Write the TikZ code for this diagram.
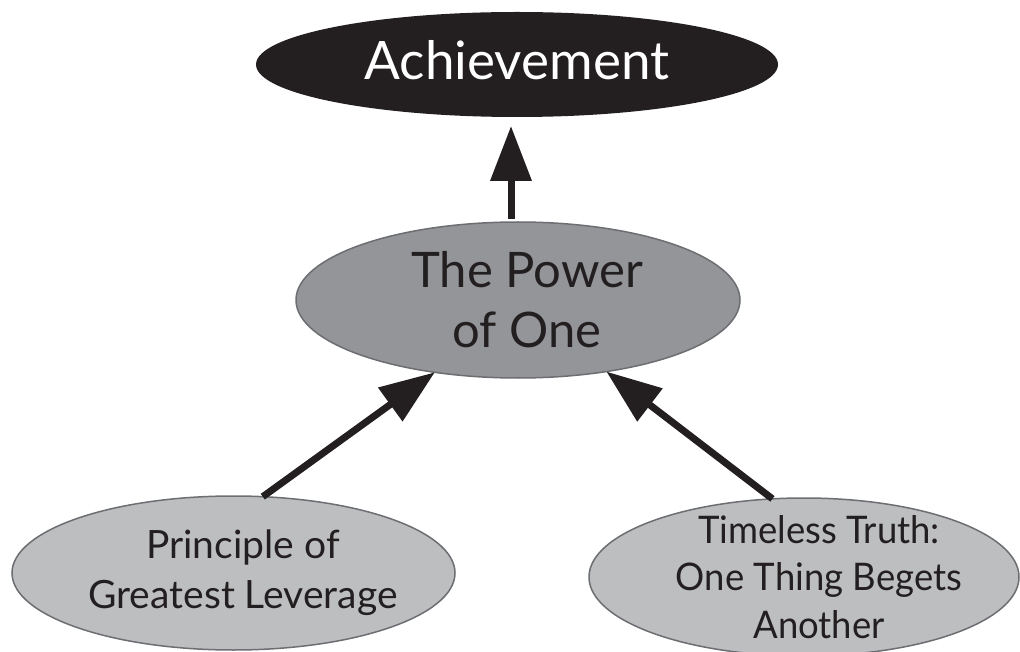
\documentclass[tikz,border=0pt]{standalone}
\usepackage{fontspec}
\setmainfont{Lato}
\newfontfamily\condfont[FakeStretch=0.96]{Lato}
\usetikzlibrary{shapes.geometric,arrows.meta}
\definecolor{ink}{HTML}{231F20}
\definecolor{midgray}{HTML}{939598}
\definecolor{lightgray}{HTML}{BCBEC0}
\definecolor{edgegray}{HTML}{6D6E71}
\newcommand{\sline}[2]{\makebox[0pt]{\hspace*{#1}#2}}
\tikzset{
  oval/.style={ellipse, inner sep=0pt, outer sep=0pt, align=center, text=ink},
  topoval/.style={oval, fill=ink, text=white, minimum width=522pt, minimum height=105pt,
    font=\fontsize{53}{60}\selectfont, text height=31pt, text depth=0pt},
  midoval/.style={oval, fill=midgray, draw=edgegray, line width=1.5pt,
    minimum width=444pt, minimum height=156pt, font=\fontsize{49}{60}\selectfont},
  lowoval/.style={oval, fill=lightgray, draw=edgegray, line width=1.5pt,
    font=\fontsize{39}{50}\selectfont},
  bigarrow/.style={draw=ink, line width=7pt, -{Triangle[length=55pt,width=40pt]}, ink}
}
\begin{document}
\begin{tikzpicture}[x=1pt,y=-1pt]
\useasboundingbox (0,0) rectangle (1020,652);
\node[topoval] (ach) at (517,64.5) {Achievement};
\node[midoval] (power) at (518,300) {\sline{18pt}{The Power}\\\sline{18pt}{of One}};
\node[lowoval, minimum width=443pt, minimum height=154pt] (lev) at (233.5,573)
  {\sline{19pt}{Principle of}\\\sline{19pt}{Greatest Leverage}};
\node[lowoval, minimum width=430pt, minimum height=158pt, inner ysep=-30pt,
  font=\condfont\fontsize{38}{47.5}\selectfont] (truth) at (804,577)
  {\sline{30pt}{Timeless Truth:}\\\sline{30pt}{One Thing Begets}\\\sline{30pt}{Another}};
\draw[bigarrow] ([xshift=-7pt,yshift=3pt]power.north) -- ([xshift=-6pt,yshift=-9pt]ach.south);
\draw[bigarrow] (lev.69) -- (power.221);
\draw[bigarrow] (truth.112) -- (power.-39);
\end{tikzpicture}
\end{document}
